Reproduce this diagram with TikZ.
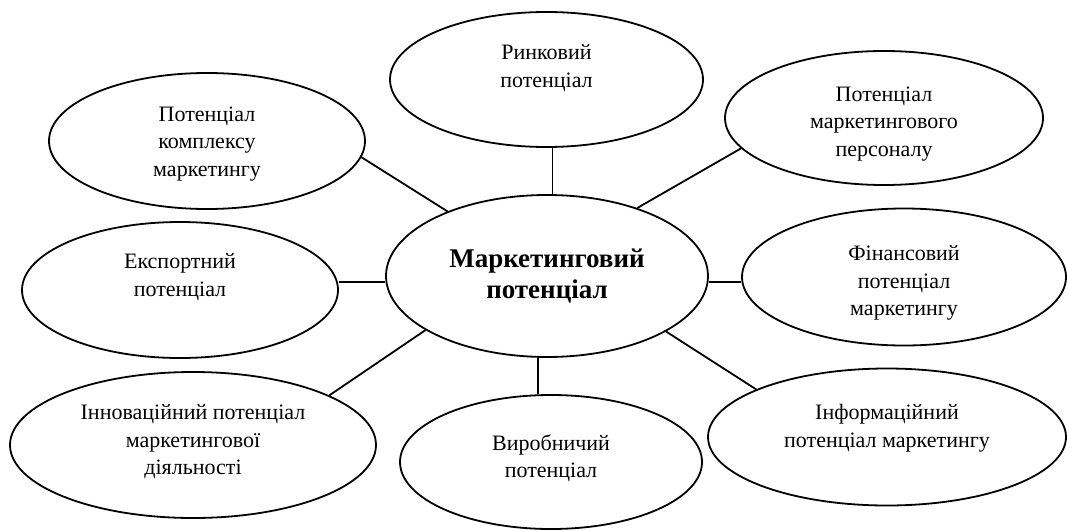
\documentclass[tikz,border=0pt]{standalone}
\usepackage{fontspec}
\setmainfont{Liberation Serif}
\usetikzlibrary{shapes.geometric}
\tikzset{
  bub/.style={ellipse, draw, line width=1.8pt, inner sep=0pt, fill=white},
  txt/.style={align=center, font=\fontsize{22}{27.5}\selectfont},
  ctxt/.style={align=center, font=\fontsize{27}{30.5}\selectfont\bfseries},
  link/.style={line width=1.8pt}
}
\begin{document}
\begin{tikzpicture}[x=1pt,y=-1pt]
\useasboundingbox (0,0) rectangle (1067,530);
% central
\node[bub, minimum width=322pt, minimum height=162pt,
  label={[ctxt]center:Маркетинговий\\потенціал}] (C) at (547,276) {};
% satellites
\node[bub, minimum width=313pt, minimum height=135pt,
  label={[txt, yshift=11.5pt]center:Ринковий\\потенціал}] (T) at (546.5,79.5) {};
\node[bub, minimum width=316pt, minimum height=136pt,
  label={[txt, yshift=-3pt]center:Потенціал\\комплексу\\маркетингу}] (TL) at (207,141) {};
\node[bub, minimum width=318pt, minimum height=134pt,
  label={[txt, yshift=-6pt]center:Потенціал\\маркетингового\\персоналу}] (TR) at (884,118) {};
\node[bub, minimum width=316pt, minimum height=136pt,
  label={[txt, yshift=13pt]center:Експортний\\потенціал}] (E) at (180,290) {};
\node[bub, minimum width=324pt, minimum height=137pt,
  label={[txt, yshift=-6pt]center:Фінансовий\\потенціал\\маркетингу}] (F) at (904,277) {};
\node[bub, minimum width=366pt, minimum height=146pt,
  label={[txt, yshift=3pt]center:Інноваційний потенціал\\маркетингової\\діяльності}] (BL) at (193,445) {};
\node[bub, minimum width=302pt, minimum height=134pt,
  label={[txt, yshift=4pt]center:Виробничий\\потенціал}] (B) at (551,462) {};
\node[bub, minimum width=358pt, minimum height=137pt,
  label={[txt, yshift=9pt]center:Інформаційний\\потенціал маркетингу}] (BR) at (887,437) {};
% connectors
\draw[link] (T.-85.3) -- (T.-85.3 |- C.north);
\draw[link] (TL.-6.2) -- (C.147.8);
\draw[link] (TR.192.1) -- (C.37.7);
\draw[link] (C.182.5) -- (C.182.5 -| E.east);
\draw[link] (C.-2.5) -- (C.-2.5 -| F.west);
\draw[link] (BL.20.3) -- (C.204.8);
\draw[link] (B.101) -- (B.101 |- C.south);
\draw[link] (BR.160.2) -- (C.-25.4);
\end{tikzpicture}
\end{document}
